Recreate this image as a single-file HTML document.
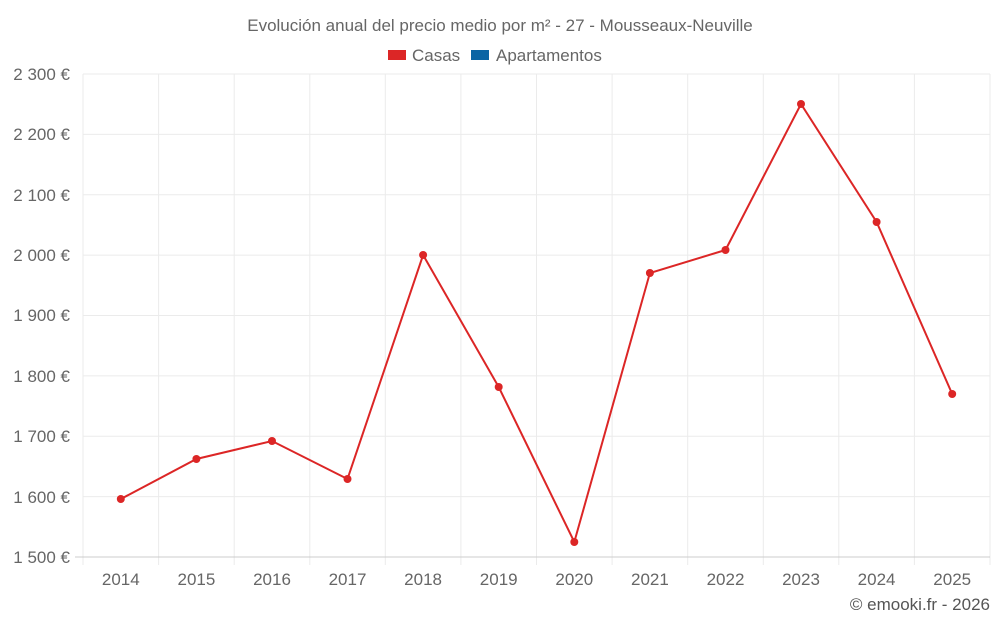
<!DOCTYPE html>
<html><head><meta charset="utf-8"><style>
body{margin:0;background:#fff;font-family:"Liberation Sans",sans-serif;}
</style></head><body>
<svg width="1000" height="625" xmlns="http://www.w3.org/2000/svg" font-family="Liberation Sans, sans-serif">
<rect width="1000" height="625" fill="#fff"/>
<text x="500" y="31" text-anchor="middle" font-size="17" fill="#666">Evolución anual del precio medio por m² - 27 - Mousseaux-Neuville</text>
<rect x="388" y="50" width="18" height="10" fill="#dc2626"/>
<text x="412" y="61" font-size="17" fill="#666">Casas</text>
<rect x="471" y="50" width="18" height="10" fill="#0a64a4"/>
<text x="496" y="61" font-size="17" fill="#666">Apartamentos</text>
<g stroke="#ebebeb" stroke-width="1">
<line x1="83" y1="74" x2="990" y2="74"/><line x1="83" y1="134.4" x2="990" y2="134.4"/><line x1="83" y1="194.8" x2="990" y2="194.8"/><line x1="83" y1="255.1" x2="990" y2="255.1"/><line x1="83" y1="315.5" x2="990" y2="315.5"/><line x1="83" y1="375.9" x2="990" y2="375.9"/><line x1="83" y1="436.3" x2="990" y2="436.3"/><line x1="83" y1="496.6" x2="990" y2="496.6"/>
<line x1="83" y1="74" x2="83" y2="565"/><line x1="158.6" y1="74" x2="158.6" y2="565"/><line x1="234.2" y1="74" x2="234.2" y2="565"/><line x1="309.8" y1="74" x2="309.8" y2="565"/><line x1="385.3" y1="74" x2="385.3" y2="565"/><line x1="460.9" y1="74" x2="460.9" y2="565"/><line x1="536.5" y1="74" x2="536.5" y2="565"/><line x1="612.1" y1="74" x2="612.1" y2="565"/><line x1="687.7" y1="74" x2="687.7" y2="565"/><line x1="763.3" y1="74" x2="763.3" y2="565"/><line x1="838.8" y1="74" x2="838.8" y2="565"/><line x1="914.4" y1="74" x2="914.4" y2="565"/><line x1="990" y1="74" x2="990" y2="565"/>
</g>
<line x1="75" y1="557" x2="990" y2="557" stroke="#ccc"/>
<g font-size="17" fill="#666" text-anchor="end">
<text x="70" y="80">2 300 €</text><text x="70" y="140">2 200 €</text><text x="70" y="201">2 100 €</text><text x="70" y="261">2 000 €</text><text x="70" y="321">1 900 €</text><text x="70" y="382">1 800 €</text><text x="70" y="442">1 700 €</text><text x="70" y="503">1 600 €</text><text x="70" y="563">1 500 €</text>
</g>
<g font-size="17" fill="#666" text-anchor="middle">
<text x="120.8" y="585">2014</text><text x="196.4" y="585">2015</text><text x="272" y="585">2016</text><text x="347.5" y="585">2017</text><text x="423.1" y="585">2018</text><text x="498.7" y="585">2019</text><text x="574.3" y="585">2020</text><text x="649.9" y="585">2021</text><text x="725.5" y="585">2022</text><text x="801" y="585">2023</text><text x="876.6" y="585">2024</text><text x="952.2" y="585">2025</text>
</g>
<polyline fill="none" stroke="#dc2626" stroke-width="2" points="120.8,499 196.4,459 272,441 347.5,479 423.1,255 498.7,387 574.3,542 649.9,273 725.5,250 801,104 876.6,222 952.2,394"/>
<g fill="#dc2626">
<circle cx="120.8" cy="499" r="4"/><circle cx="196.4" cy="459" r="4"/><circle cx="272" cy="441" r="4"/><circle cx="347.5" cy="479" r="4"/><circle cx="423.1" cy="255" r="4"/><circle cx="498.7" cy="387" r="4"/><circle cx="574.3" cy="542" r="4"/><circle cx="649.9" cy="273" r="4"/><circle cx="725.5" cy="250" r="4"/><circle cx="801" cy="104" r="4"/><circle cx="876.6" cy="222" r="4"/><circle cx="952.2" cy="394" r="4"/>
</g>
<text x="990" y="610" text-anchor="end" font-size="17" fill="#555">© emooki.fr - 2026</text>
</svg>
</body></html>
